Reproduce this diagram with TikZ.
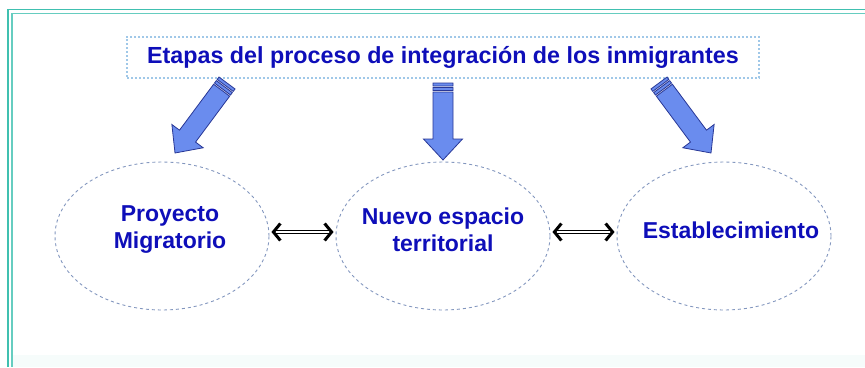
\documentclass[tikz,border=0pt]{standalone}
\usepackage{fontspec}
\setmainfont{Liberation Sans}
\usetikzlibrary{shapes.geometric,calc,arrows.meta}
\definecolor{frameteal}{RGB}{64,192,176}
\definecolor{titleblue}{RGB}{14,14,185}
\definecolor{boxdot}{RGB}{160,200,232}
\definecolor{elldash}{RGB}{130,150,190}
\definecolor{arrfill}{RGB}{106,140,238}
\definecolor{arrline}{RGB}{40,55,150}
\tikzset{
  titlebox/.style={draw=boxdot, line width=2pt, dotted, inner xsep=17pt, minimum height=41pt, minimum width=632pt,
    font=\fontsize{23.3}{27}\selectfont\bfseries, text=titleblue},
  stagebox/.style={ellipse, draw=elldash, dashed, line width=0.9pt, minimum width=214pt, minimum height=148pt, inner sep=0pt},
  stagetext/.style={font=\fontsize{23}{27}\selectfont\bfseries, text=titleblue, align=center},
  barrow/.style={fill=arrfill, draw=arrline, line width=0.8pt, line join=miter},
  dblarrow/.style={draw=black, double=white, double distance=2pt, line width=1.1pt,
    arrows={Straight Barb[length=7pt,width=17pt,line width=3pt]-Straight Barb[length=7pt,width=17pt,line width=3pt]}}
}
\newcommand\blockarr[2]{%
  \draw[barrow] let \p1=($(#2)-(#1)$), \n1={atan2(\y1,\x1)}, \n2={veclen(\x1,\y1)} in
   {[shift={(#1)}, rotate=\n1]
    (0,-10) rectangle (3,10)
    (4.5,-10) rectangle (7.5,10)
    (9,-10) -- ({\n2-21},-10) -- ({\n2-21},-19.5) -- (\n2,0) -- ({\n2-21},19.5) -- ({\n2-21},10) -- (9,10) -- cycle};
}
\begin{document}
\begin{tikzpicture}[x=1pt,y=-1pt]
\useasboundingbox (0,0) rectangle (865,367);
% frame
\fill[frameteal!5] (13,355) rectangle (865,367);
\draw[frameteal, line width=1.8pt] (865,9.5) -- (8,9.5) -- (8,367);
\draw[frameteal!80, line width=1.3pt] (865,13.5) -- (12,13.5) -- (12,367);
% title
\node[titlebox] (title) at (443,57) {Etapas del proceso de integración de los inmigrantes};
% stages
\node[stagebox] (e1) at (162,236) {};
\node[stagebox] (e2) at (443,236) {};
\node[stagebox] (e3) at (724,236) {};
\node[stagetext] (l1) at (170,230) {Proyecto\\Migratorio};
\node[stagetext] (l2) at (443,230) {Nuevo espacio\\territorial};
\node[stagetext] (l3) at (731,230) {Establecimiento};
% block arrows
\coordinate (a1) at (227,83);
\coordinate (b1) at (175,153);
\coordinate (a2) at (443,83);
\coordinate (b2) at (443,160);
\coordinate (a3) at (659,83);
\coordinate (b3) at (711,153);
\blockarr{a1}{b1}
\blockarr{a2}{b2}
\blockarr{a3}{b3}
% double arrows
\draw[dblarrow] ([yshift=4pt,xshift=2pt]e1.east) -- ([yshift=4pt,xshift=-2pt]e2.west);
\draw[dblarrow] ([yshift=4pt,xshift=2pt]e2.east) -- ([yshift=4pt,xshift=-2pt]e3.west);
\end{tikzpicture}
\end{document}
